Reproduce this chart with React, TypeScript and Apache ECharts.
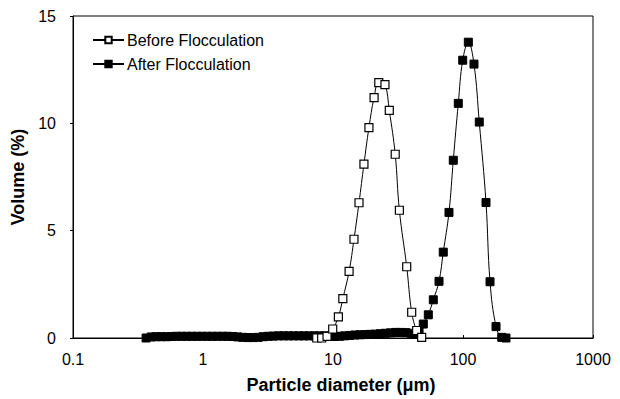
import React, { useEffect, useRef } from "react";
import * as echarts from "echarts";

const xTicks = [0.1, 1, 10, 100, 1000];
const yTicks = [0, 5, 10, 15];

const beforeLabel = "Before Flocculation";
const afterLabel = "After Flocculation";

const beforeD = [7.5, 8.18, 9.0, 9.95, 11.0, 11.9, 13.3, 14.5, 15.85, 17.3, 18.9, 20.7, 22.5, 25.1, 27.1, 30.1, 32.4, 36.9, 40.3, 44.0, 48.1];
const beforeV = [0, 0, 0.08, 0.42, 0.98, 1.83, 3.1, 4.6, 6.3, 8.1, 9.8, 11.2, 11.9, 11.8, 10.6, 8.56, 5.95, 3.32, 1.2, 0.35, 0.03];

const afterD = [
  0.365, 0.4, 0.437, 0.478, 0.524, 0.573, 0.627, 0.686, 0.751, 0.822,
  0.899, 0.984, 1.077, 1.179, 1.29, 1.412, 1.545, 1.691, 1.851, 2.026,
  2.217, 2.426, 2.655, 2.906, 3.18, 3.479, 3.808, 4.168, 4.56, 4.991,
  5.462, 5.977, 6.542, 7.159, 7.834, 8.574, 9.384, 10.27, 11.24, 12.3,
  13.46, 14.73, 16.12, 17.64, 19.31, 21.13, 23.12, 25.31, 27.69, 30.31,
  33.17, 36.3, 39.72, 42.7, 45.9, 49.5, 54.1, 59.1, 65.4, 70.5,
  78.0, 84.2, 92.0, 99.5, 109.9, 121.5, 133.4, 150.3, 161.4, 179.5,
  198.6, 214.0,
];
const afterV = [
  0, 0.05, 0.06, 0.06, 0.06, 0.07, 0.08, 0.08, 0.08, 0.08,
  0.08, 0.08, 0.08, 0.08, 0.08, 0.08, 0.08, 0.07, 0.05, 0.03,
  0.02, 0.02, 0.03, 0.06, 0.08, 0.09, 0.1, 0.1, 0.1, 0.1,
  0.1, 0.1, 0.1, 0.1, 0.1, 0.1, 0.08, 0.07, 0.08, 0.1,
  0.12, 0.14, 0.15, 0.16, 0.17, 0.18, 0.2, 0.22, 0.24, 0.26,
  0.26, 0.25, 0.22, 0.19, 0.34, 0.65, 1.08, 1.78, 2.64, 4.0,
  5.85, 8.28, 10.93, 12.94, 13.78, 12.76, 10.06, 6.31, 2.62, 0.53,
  0.03, 0,
];

const FONT = "Liberation Sans, Arial, sans-serif";

export default function App() {
  const ref = useRef<HTMLDivElement>(null);
  useEffect(() => {
    if (!ref.current) return;
    const chart = echarts.init(ref.current, undefined, { renderer: "svg" });
    const pairs = (d: number[], v: number[]) => d.map((x, i) => [x, v[i]]);
    chart.setOption({
      animation: false,
      backgroundColor: "#fff",
      textStyle: { fontFamily: FONT, color: "#000" },
      grid: {
        left: 73,
        right: 27,
        top: 16,
        bottom: 60,
        show: true,
        borderColor: "#000",
        borderWidth: 1,
        backgroundColor: "transparent",
      },
      legend: {
        data: [beforeLabel, afterLabel],
        orient: "vertical",
        left: 87,
        top: 27,
        itemWidth: 31,
        itemHeight: 8,
        itemGap: 8,
        textStyle: { fontFamily: FONT, fontSize: 16, color: "#000", padding: [0, 0, 0, -2] },
      },
      xAxis: {
        type: "log",
        logBase: 10,
        min: 0.1,
        max: 1000,
        name: "Particle diameter (\u03bcm)",
        nameLocation: "middle",
        nameGap: 38,
        nameTextStyle: { fontFamily: FONT, fontSize: 18, fontWeight: "bold", color: "#000", padding: [0, 0, 0, 16] },
        axisLine: { show: true, lineStyle: { color: "#000", width: 1 } },
        axisTick: { show: true, inside: true, length: 3, lineStyle: { color: "#000" } },
        minorTick: { show: false },
        splitLine: { show: false },
        axisLabel: {
          fontFamily: FONT,
          fontSize: 16,
          color: "#000",
          margin: 13,
          formatter: (v: number) => {
            const m = xTicks.find((t) => Math.abs(Math.log10(t) - Math.log10(v)) < 1e-6);
            return m !== undefined ? String(m) : "";
          },
        },
      },
      yAxis: {
        type: "value",
        min: 0,
        max: 15,
        interval: 5,
        name: "Volume (%)",
        nameLocation: "middle",
        nameGap: 43,
        nameTextStyle: { fontFamily: FONT, fontSize: 18, fontWeight: "bold", color: "#000" },
        axisLine: { show: true, lineStyle: { color: "#000", width: 1 } },
        axisTick: { show: true, inside: false, length: 3, lineStyle: { color: "#000" } },
        splitLine: { show: false },
        axisLabel: {
          fontFamily: FONT,
          fontSize: 16,
          color: "#000",
          margin: 17,
          formatter: (v: number) => (yTicks.includes(v) ? String(v) : ""),
        },
      },
      series: [
        {
          name: afterLabel,
          type: "line",
          data: pairs(afterD, afterV),
          smooth: 0.4,
          symbol: "rect",
          symbolSize: 8,
          showAllSymbol: true,
          lineStyle: { color: "#000", width: 1 },
          itemStyle: { color: "#000", borderColor: "#000", borderWidth: 1 },
          z: 2,
        },
        {
          name: beforeLabel,
          type: "line",
          data: pairs(beforeD, beforeV),
          smooth: 0.4,
          symbol: "rect",
          symbolSize: 8,
          showAllSymbol: true,
          lineStyle: { color: "#000", width: 1 },
          itemStyle: { color: "#fff", borderColor: "#000", borderWidth: 1.2 },
          z: 3,
        },
      ],
    });
    return () => chart.dispose();
  }, []);
  return (
    <div
      ref={ref}
      style={{ position: "fixed", left: 0, top: 0, width: 620, height: 399, background: "#fff" }}
    />
  );
}
